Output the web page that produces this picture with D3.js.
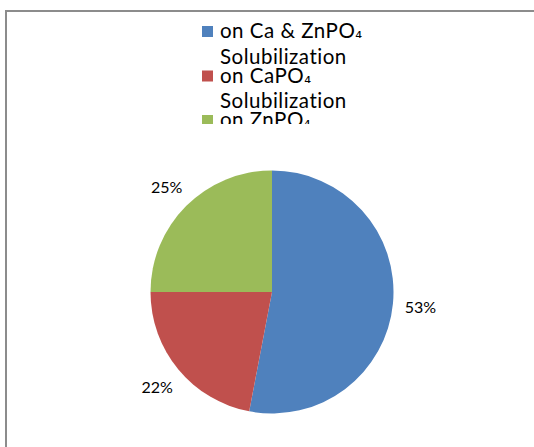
<!DOCTYPE html>
<html><head><meta charset="utf-8">
<script src="https://cdn.jsdelivr.net/npm/d3@7"></script>
<style>body{margin:0;background:#fff}svg{display:block}</style>
</head><body>
<svg id="c" width="534" height="447"></svg>
<script>
const categories = ["Solubilization on Ca & ZnPO₄", "Solubilization on CaPO₄", "Solubilization on ZnPO₄"];
const legendLines = [["Solubilization", "on Ca & ZnPO₄"], ["Solubilization", "on CaPO₄"], ["Solubilization", "on ZnPO₄"]];
const values = [53, 22, 25];
const labels = ["53%", "22%", "25%"];
const colors = ["#4F81BD", "#C0504D", "#9BBB59"];

const svg = d3.select("#c");
const font = "Lato, 'Open Sans', sans-serif";

svg.append("rect").attr("x", 6).attr("y", 11).attr("width", 600).attr("height", 500)
  .attr("fill", "#fff").attr("stroke", "#8c8c8c").attr("stroke-width", 2);

const cx = 272, cy = 292, r = 121.5;
const pie = d3.pie().sort(null).value(d => d);
const arcs = pie(values);
const arc = d3.arc().innerRadius(0).outerRadius(r);
const g = svg.append("g").attr("transform", `translate(${cx},${cy})`);
g.selectAll("path").data(arcs).join("path")
  .attr("d", arc).attr("fill", (d, i) => colors[i]);

const lr = 149;
g.selectAll("text").data(arcs).join("text")
  .attr("x", d => lr * Math.sin((d.startAngle + d.endAngle) / 2))
  .attr("y", d => -lr * Math.cos((d.startAngle + d.endAngle) / 2))
  .attr("text-anchor", "middle").attr("dominant-baseline", "central")
  .attr("font-family", font).attr("font-size", 16).attr("fill", "#000")
  .text((d, i) => labels[i]);

// legend (clipped to a scrolled box, as in the reference)
const clipTop = 21, clipBottom = 124;
svg.append("clipPath").attr("id", "lc").append("rect")
  .attr("x", 190).attr("y", clipTop).attr("width", 200).attr("height", clipBottom - clipTop);
const lg = svg.append("g").attr("clip-path", "url(#lc)");
const step = 44.5, lineH = 19;
lg.selectAll("rect").data(categories).join("rect")
  .attr("x", 202).attr("y", (d, i) => 26 + i * step).attr("width", 11).attr("height", 11)
  .attr("fill", (d, i) => colors[i]);
const tx = lg.append("text").attr("font-family", font).attr("font-size", 20.5)
  .attr("letter-spacing", 0.5).attr("fill", "#000");
categories.forEach((c, i) => {
  legendLines[i].forEach((ln, j) => {
    const base = 19 + j * lineH + i * step;
    if (base < clipTop) return; // line scrolled entirely out of the legend box
    const parts = ln.split("₄");
    tx.append("tspan").attr("x", 220).attr("y", base).text(parts[0]);
    if (parts.length > 1) {
      tx.append("tspan").attr("font-family", "'DejaVu Sans'").attr("font-size", 17).text("₄");
    }
  });
});
</script>
</body></html>
